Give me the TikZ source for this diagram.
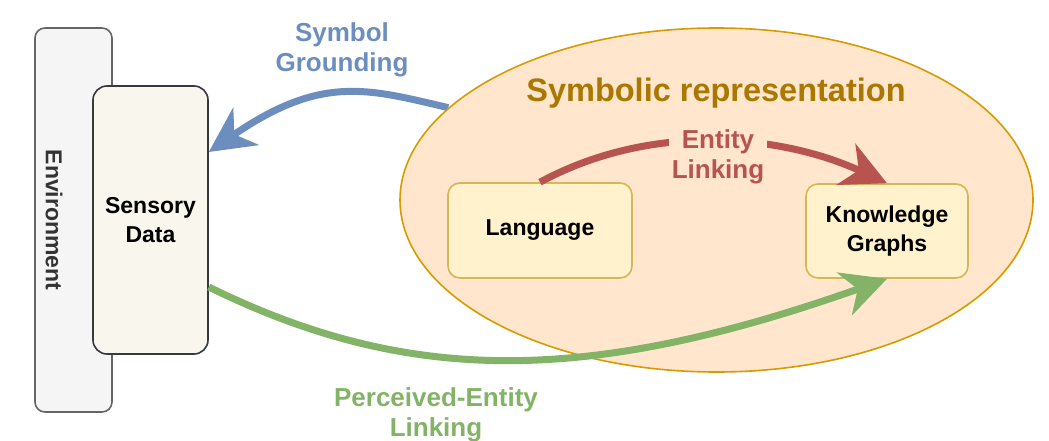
\documentclass[tikz,border=0pt]{standalone}
\usepackage{fontspec}
\setmainfont{Liberation Sans}
\usetikzlibrary{shapes.geometric}
\usetikzlibrary{arrows.meta}
\usetikzlibrary{backgrounds}

\definecolor{envfill}{HTML}{F5F5F5}
\definecolor{envline}{HTML}{666666}
\definecolor{envtext}{HTML}{333333}
\definecolor{sensefill}{HTML}{F9F7ED}
\definecolor{senseline}{HTML}{36393D}
\definecolor{symfill}{HTML}{FFE6CC}
\definecolor{symline}{HTML}{D79B00}
\definecolor{symtext}{RGB}{170,120,0}
\definecolor{itemfill}{HTML}{FFF2CC}
\definecolor{itemline}{HTML}{D6B656}
\definecolor{groundcol}{HTML}{6C8EBF}
\definecolor{linkcol}{HTML}{B85450}
\definecolor{percol}{HTML}{82B366}

\begin{document}
\begin{tikzpicture}[x=1pt, y=-1pt,
    box/.style={draw, line width=1.6pt, inner sep=0pt, align=center,
      font=\fontsize{23}{28.5}\selectfont\bfseries},
    itembox/.style={box, fill=itemfill, draw=itemline, rounded corners=12pt,
      minimum height=95pt},
    flow/.style={line width=7pt, -{Stealth[length=45pt, width=45pt, inset=14pt]}},
    flowlabel/.style={align=center, font=\fontsize{26}{30.5}\selectfont\bfseries}]
  \useasboundingbox (0,0) rectangle (1049,441);

  \node[box, fill=envfill, draw=envline, rounded corners=10pt,
    minimum width=77pt, minimum height=384pt] (env) at (73.5,220) {};
  \node[rotate=-90, text=envtext, font=\fontsize{23}{28}\selectfont\bfseries]
    (envlabel) at (54,220) {Environment};
  \node[box, fill=sensefill, draw=senseline, rounded corners=14pt,
    minimum width=115pt, minimum height=268pt] (sense) at (150.5,220) {Sensory\\Data};

  \node[ellipse, fill=symfill, draw=symline, line width=1.6pt, inner sep=0pt,
    minimum width=633pt, minimum height=344pt] (sym) at (716.5,200) {};
  \node[text=symtext, font=\fontsize{32.5}{37}\selectfont\bfseries]
    (symtitle) at (716,93) {Symbolic representation};
  \node[itembox, minimum width=184pt] (lang) at (540,230.5) {Language};
  \node[itembox, minimum width=162pt, minimum height=94pt] (kg) at (887,231) {Knowledge\\Graphs};

  \begin{scope}[on background layer]
    \draw[flow, groundcol] (sym.161) .. controls (368,89) and (322,74) .. ([yshift=68pt]sense.east);
  \end{scope}
  \node[flowlabel, text=groundcol] (groundlabel) at (342,50) {Symbol\\Grounding};

  \draw[flow, linkcol] (lang.north) .. controls (649,123) and (778,133) .. (kg.north);
  \node[flowlabel, text=linkcol, fill=symfill, inner sep=3pt] (linklabel) at (718,157) {Entity\\Linking};

  \draw[flow, percol] ([yshift=-67pt]sense.east) .. controls (408,385) and (587,385) .. (kg.south);
  \node[flowlabel, text=percol] (perlabel) at (436,415) {Perceived-Entity\\Linking};
\end{tikzpicture}
\end{document}
